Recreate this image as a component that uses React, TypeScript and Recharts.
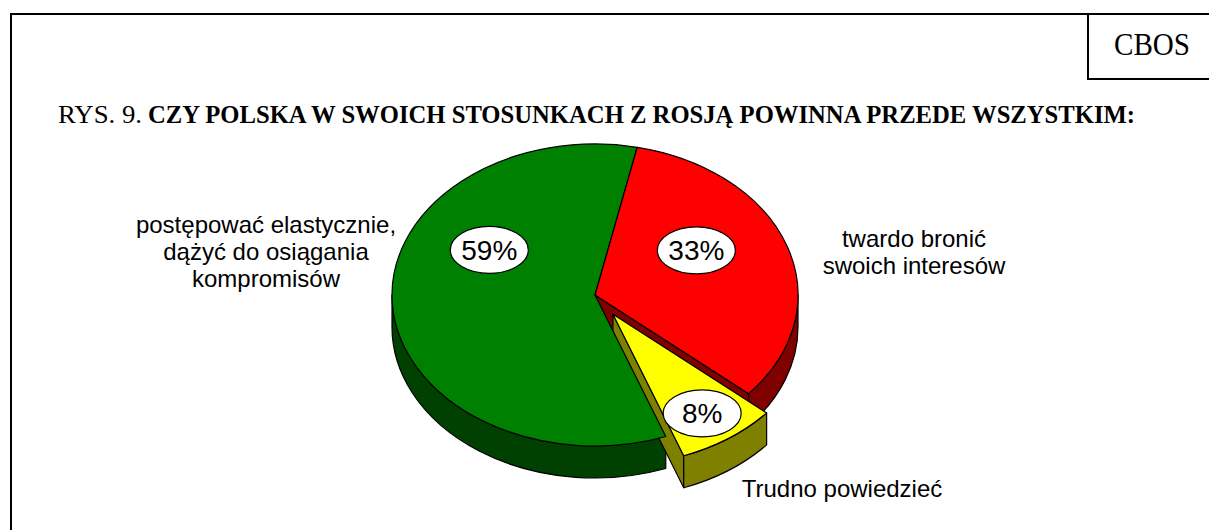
import React from "react";
import { PieChart, Pie } from "recharts";

// answers, in chart order (clockwise from the top)
const categories = [
  "postępować elastycznie, dążyć do osiągania kompromisów",
  "twardo bronić swoich interesów",
  "Trudno powiedzieć",
];
const values = [59, 33, 8];

// how the answer labels are broken into lines
const labelLines = [
  ["postępować elastycznie,", "dążyć do osiągania", "kompromisów"],
  ["twardo bronić", "swoich interesów"],
  ["Trudno powiedzieć"],
];

const TOP_COLORS = ["#008000", "#FF0000", "#FFFF00"];
const SIDE_COLORS = ["#004000", "#800000", "#808000"];
const EXPLODE = [0, 0, 0.155];
// percent bubble placement: angle shift from mid-angle, radius as share of R
const BUBBLE_SHIFT = [-34, 12, -1];
const BUBBLE_R = [0.6, 0.58, 0.79];

const SQUASH = 151 / 203;
const DEPTH = 32;
const SANS = "'Liberation Sans', Arial, sans-serif";
const SERIF = "'Liberation Serif', 'Times New Roman', serif";

const pieData = categories.map((name, i) => ({ name, value: values[i] }));

const rad = (a: number) => (a * Math.PI) / 180;

function geo(p: any) {
  const { cx, cy, outerRadius: R, startAngle, endAngle, index } = p;
  const hi = Math.max(startAngle, endAngle);
  const lo = Math.min(startAngle, endAngle);
  const mid = (hi + lo) / 2;
  const e = EXPLODE[index] * R;
  const x0 = cx + e * Math.cos(rad(mid));
  const y0 = cy - e * SQUASH * Math.sin(rad(mid));
  const pt = (a: number, r = R): [number, number] => [
    x0 + r * Math.cos(rad(a)),
    y0 - r * SQUASH * Math.sin(rad(a)),
  ];
  return { R, hi, lo, mid, x0, y0, pt, rx: R, ry: R * SQUASH };
}

// side walls of the 3D pie (drawn first)
const renderSides = (p: any) => {
  const { hi, lo, x0, y0, pt, rx, ry } = geo(p);
  const d: string[] = [];
  const face = (a: number) => {
    const [x, y] = pt(a);
    return `M${x0},${y0} L${x},${y} L${x},${y + DEPTH} L${x0},${y0 + DEPTH} Z`;
  };
  if (Math.cos(rad(hi)) < 0) d.push(face(hi));
  if (Math.cos(rad(lo)) > 0) d.push(face(lo));
  for (const k of [-360, 0, 360]) {
    const a1 = Math.max(lo, 180 + k);
    const a2 = Math.min(hi, 360 + k);
    if (a2 > a1) {
      const [xa, ya] = pt(a2);
      const [xb, yb] = pt(a1);
      d.push(
        `M${xa},${ya} A${rx},${ry} 0 0 1 ${xb},${yb} L${xb},${yb + DEPTH} A${rx},${ry} 0 0 0 ${xa},${ya + DEPTH} Z`
      );
    }
  }
  return (
    <g key={`side-${p.index}`}>
      {d.map((s, i) => (
        <path key={i} d={s} fill={SIDE_COLORS[p.index]} stroke="#000" strokeWidth={1.2} strokeLinejoin="round" />
      ))}
    </g>
  );
};

// top faces
const renderTops = (p: any) => {
  const { hi, lo, x0, y0, pt, rx, ry } = geo(p);
  const [xa, ya] = pt(hi);
  const [xb, yb] = pt(lo);
  const large = hi - lo > 180 ? 1 : 0;
  return (
    <path
      key={`top-${p.index}`}
      d={`M${x0},${y0} L${xa},${ya} A${rx},${ry} 0 ${large} 1 ${xb},${yb} Z`}
      fill={TOP_COLORS[p.index]}
      stroke="#000"
      strokeWidth={1.2}
      strokeLinejoin="round"
    />
  );
};

// percent bubbles
const renderBubbles = (p: any) => {
  const { mid, pt, R } = geo(p);
  const [x, y] = pt(mid + BUBBLE_SHIFT[p.index], R * BUBBLE_R[p.index]);
  return (
    <g key={`lab-${p.index}`}>
      <ellipse cx={x} cy={y} rx={39} ry={23.5} fill="#fff" stroke="#000" strokeWidth={1.2} />
      <text x={x} y={y + 10} textAnchor="middle" fontFamily={SANS} fontSize={28} fill="#000">
        {`${p.value}%`}
      </text>
    </g>
  );
};

const LABEL_POS = [
  { x: 266, y: 233 },
  { x: 914, y: 247 },
  { x: 842, y: 497 },
];

const pieProps = {
  data: pieData,
  dataKey: "value",
  nameKey: "name",
  cx: 595,
  cy: 295,
  outerRadius: 203,
  startAngle: 290.4,
  endAngle: -69.6,
  fill: "none",
  stroke: "none",
  labelLine: false,
  isAnimationActive: false,
};

export default function App() {
  return (
    <div style={{ position: "absolute", left: 0, top: 0, width: 1209, height: 530, background: "#fff" }}>
      <svg width={1209} height={530} style={{ position: "absolute", left: 0, top: 0 }}>
        <line x1={10} y1={14} x2={1209} y2={14} stroke="#000" strokeWidth={2} />
        <line x1={11} y1={13} x2={11} y2={530} stroke="#000" strokeWidth={2} />
        <line x1={1088} y1={14} x2={1088} y2={80} stroke="#000" strokeWidth={2} />
        <line x1={1087} y1={79} x2={1209} y2={79} stroke="#000" strokeWidth={2} />
        <text x={1114} y={55} fontFamily={SERIF} fontSize={31} textLength={76} lengthAdjust="spacingAndGlyphs">
          CBOS
        </text>
        <text x={58} y={123} fontFamily={SERIF} fontSize={26} textLength={84} lengthAdjust="spacingAndGlyphs">
          RYS. 9.
        </text>
        <text
          x={148}
          y={123}
          fontFamily={SERIF}
          fontSize={26}
          fontWeight="bold"
          textLength={987}
          lengthAdjust="spacingAndGlyphs"
        >
          CZY POLSKA W SWOICH STOSUNKACH Z ROSJĄ POWINNA PRZEDE WSZYSTKIM:
        </text>
        {labelLines.map((lines, i) =>
          lines.map((ln, j) => (
            <text
              key={`${i}-${j}`}
              x={LABEL_POS[i].x}
              y={LABEL_POS[i].y + j * 27}
              textAnchor="middle"
              fontFamily={SANS}
              fontSize={24}
              fill="#000"
            >
              {ln}
            </text>
          ))
        )}
      </svg>
      <div style={{ position: "absolute", left: 0, top: 0 }}>
        <PieChart width={1209} height={530} margin={{ top: 0, right: 0, bottom: 0, left: 0 }}>
          <Pie {...(pieProps as any)} label={renderSides} />
          <Pie {...(pieProps as any)} label={renderTops} />
          <Pie {...(pieProps as any)} label={renderBubbles} />
        </PieChart>
      </div>
    </div>
  );
}
